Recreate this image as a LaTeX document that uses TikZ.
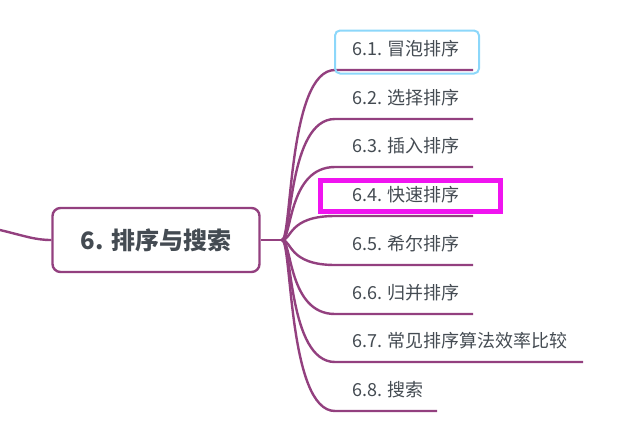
\documentclass[tikz,border=0pt]{standalone}
\usepackage{fontspec}
\newfontfamily\cjk{Noto Sans CJK SC}
\definecolor{br}{HTML}{93407F}
\definecolor{tx}{HTML}{444B52}
\begin{document}
\begin{tikzpicture}[x=1pt,y=-1pt,
  item/.style={anchor=south west,inner sep=0pt,text=tx,font=\cjk\fontsize{18}{18}\selectfont},
  link/.style={draw=br,line width=2.4pt}]
\useasboundingbox (0,0) rectangle (639,431);
\node[draw=br,line width=2.4pt,rounded corners=8pt,minimum width=207pt,minimum height=64pt,text=tx,font=\cjk\bfseries\fontsize{24}{24}\selectfont] (c) at (156,240) {6. 排序与搜索};
\coordinate (l0) at (0,230);
\draw[link] (l0) .. controls (25,236) and (35,240) .. (c.west);
\coordinate (h) at (282,240);
\draw[link] (c.east) -- (h);
\foreach \i/\y/\e/\t in {1/70/473/冒泡排序,2/119/473/选择排序,3/167/473/插入排序,4/216/473/快速排序,5/265/473/希尔排序,6/314/473/归并排序,7/362/583/常见排序算法效率比较,8/411/437/搜索}{
  \coordinate (s\i) at (335,\y);
  \coordinate (e\i) at (\e,\y);
  \draw[link] (h) .. controls (292,240) and (288,\y) .. (s\i) -- (e\i);
  \node[item] (t\i) at (352,\y-13) {6.\i. \t};
}
\node[draw={rgb,255:red,140;green,215;blue,250},line width=2pt,rounded corners=5pt,minimum width=144pt,minimum height=43pt] (sel) at (407,52) {};
\node[draw={rgb,255:red,240;green,20;blue,240},line width=5pt,minimum width=180pt,minimum height=31pt] (hl) at (410.5,196) {};
\end{tikzpicture}
\end{document}
